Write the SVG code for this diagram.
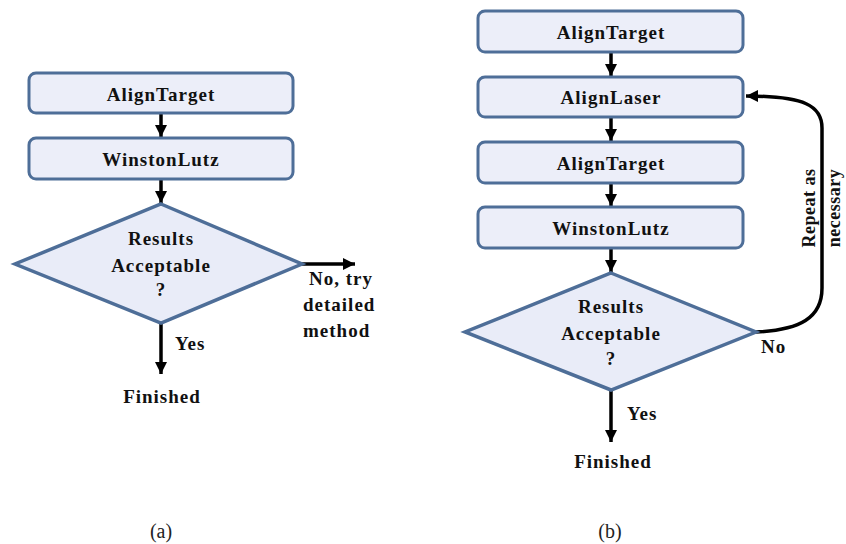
<svg xmlns="http://www.w3.org/2000/svg" width="846" height="544" viewBox="0 0 846 544">
<defs>
<marker id="ah" markerUnits="userSpaceOnUse" markerWidth="14" markerHeight="14" refX="12" refY="7" orient="auto">
<path d="M0,1 L12,7 L0,13 Z" fill="#000"/>
</marker>
</defs>
<style>
.box{fill:#eceef9;stroke:#4e6e98;stroke-width:3}
.dia{fill:#e9ecf8;stroke:#4e6e98;stroke-width:3.5}
.t{font-family:"Liberation Serif","Times New Roman",serif;font-weight:bold;font-size:19px;letter-spacing:1px;fill:#111;text-anchor:middle}
.r{font-size:18px;letter-spacing:0.5px}
.l{text-anchor:start}
.c{stroke:#000;stroke-width:3.5;fill:none}
.cap{font-family:"Liberation Serif","Times New Roman",serif;font-size:20px;fill:#222;text-anchor:middle}
</style>
<rect width="846" height="544" fill="#fff"/>
<g id="connectors">
<line class="c" x1="161" y1="114" x2="161" y2="137" marker-end="url(#ah)"/>
<line class="c" x1="161" y1="180" x2="161" y2="203" marker-end="url(#ah)"/>
<line class="c" x1="302" y1="264" x2="355" y2="264" marker-end="url(#ah)"/>
<line class="c" x1="161" y1="324" x2="161" y2="374" marker-end="url(#ah)"/>
<line class="c" x1="611" y1="53" x2="611" y2="76" marker-end="url(#ah)"/>
<line class="c" x1="611" y1="118" x2="611" y2="141" marker-end="url(#ah)"/>
<line class="c" x1="611" y1="184" x2="611" y2="206" marker-end="url(#ah)"/>
<line class="c" x1="611" y1="249" x2="611" y2="272" marker-end="url(#ah)"/>
<line class="c" x1="611" y1="391" x2="611" y2="442" marker-end="url(#ah)"/>
<path class="c" d="M756,332 C800,330 822,318 822,288 L822,128 C822,106 805,96 746,96" marker-end="url(#ah)"/>
</g>
<g id="a-aligntarget"><rect class="box" x="29" y="73" width="264" height="40" rx="7"/><text class="t" x="161" y="101">AlignTarget</text></g>
<g id="a-winstonlutz"><rect class="box" x="29" y="138" width="264" height="41" rx="7"/><text class="t" x="161" y="166">WinstonLutz</text></g>
<g id="a-results"><polygon class="dia" points="161,204 302,264 161,323 15,264"/>
<text class="t" x="161" y="245">Results</text><text class="t" x="161" y="272">Acceptable</text><text class="t" x="161" y="296">?</text></g>
<g id="a-no-label"><text class="t l" x="309" y="285">No, try</text><text class="t l" x="303" y="311">detailed</text><text class="t l" x="303" y="337">method</text></g>
<g id="a-yes-label"><text class="t l" x="175" y="350">Yes</text></g>
<g id="a-finished"><text class="t" x="162" y="403">Finished</text></g>
<g id="b-aligntarget1"><rect class="box" x="478" y="11" width="265" height="41" rx="7"/><text class="t" x="611" y="39">AlignTarget</text></g>
<g id="b-alignlaser"><rect class="box" x="478" y="77" width="265" height="40" rx="7"/><text class="t" x="611" y="104">AlignLaser</text></g>
<g id="b-aligntarget2"><rect class="box" x="478" y="142" width="265" height="41" rx="7"/><text class="t" x="611" y="170">AlignTarget</text></g>
<g id="b-winstonlutz"><rect class="box" x="478" y="207" width="265" height="41" rx="7"/><text class="t" x="611" y="235">WinstonLutz</text></g>
<g id="b-results"><polygon class="dia" points="611,273 756,332 611,390 465,332"/>
<text class="t" x="611" y="313">Results</text><text class="t" x="611" y="340">Acceptable</text><text class="t" x="611" y="365">?</text></g>
<g id="b-no-label"><text class="t l" x="761" y="353">No</text></g>
<g id="b-repeat-label"><text class="t r" transform="translate(815,208) rotate(-90)">Repeat as</text><text class="t r" transform="translate(840,208) rotate(-90)">necessary</text></g>
<g id="b-yes-label"><text class="t l" x="627" y="420">Yes</text></g>
<g id="b-finished"><text class="t" x="613" y="468">Finished</text></g>
<g id="captions"><text class="cap" x="161" y="538">(a)</text><text class="cap" x="610" y="538">(b)</text></g>
</svg>
